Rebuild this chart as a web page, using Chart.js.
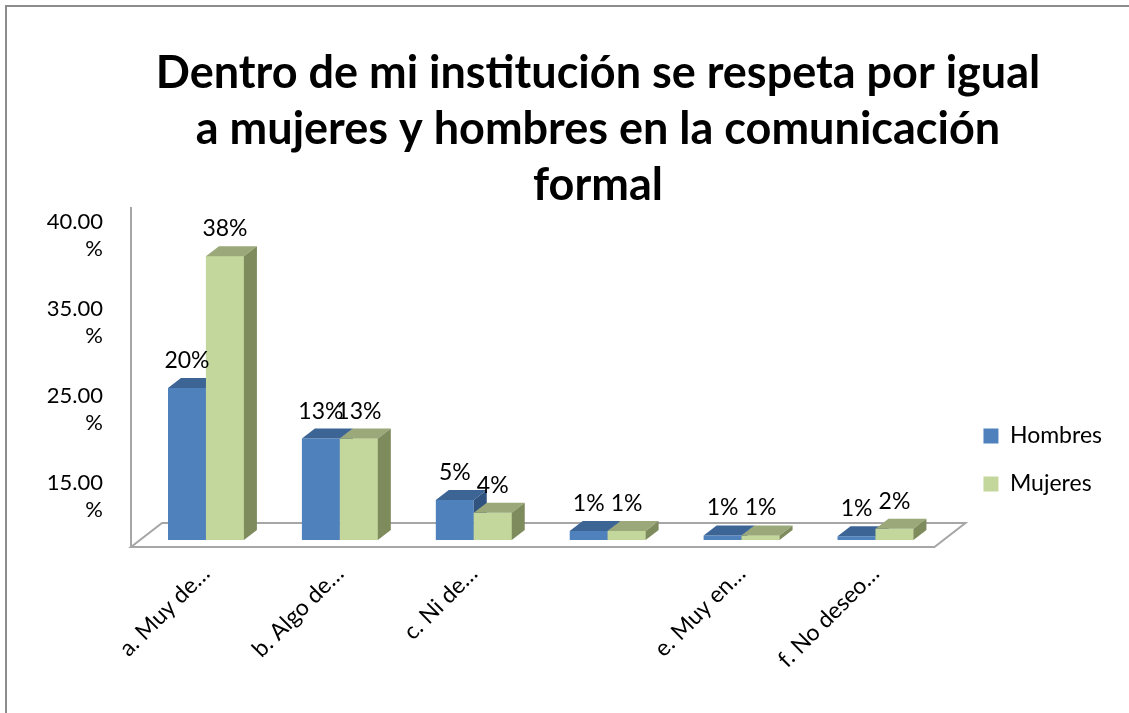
<!DOCTYPE html>
<html>
<head>
<meta charset="utf-8">
<script src="https://cdn.jsdelivr.net/npm/chart.js@4.4.1/dist/chart.umd.min.js"></script>
<style>
  html, body { margin: 0; padding: 0; background: #fff; overflow: hidden; }
  #wrap { width: 1129px; height: 713px; position: relative; }
</style>
</head>
<body>
<div id="wrap"><canvas id="myChart"></canvas></div>
<script>
// data
const titleLines = ['Dentro de mi institución se respeta por igual', 'a mujeres y hombres en la comunicación', 'formal'];
const categories = ['a. Muy de…', 'b. Algo de…', 'c. Ni de…', '', 'e. Muy en…', 'f. No deseo…'];
const hombres = [20.1, 13.4, 5.3, 1.2, 0.6, 0.5];
const mujeres = [37.5, 13.4, 3.6, 1.2, 0.6, 1.5];
const yTickValues = [5.75, 17.25, 28.75, 40.25];
const yTickLabels = [['15.00', '%'], ['25.00', '%'], ['35.00', '%'], ['40.00', '%']];

const fontFamily = 'Lato, "Open Sans", sans-serif';
const depth = { x: 13, y: 10 };
const faceColors = [
    { front: '#4F81BD', top: '#3C6595', side: '#30547F' },
    { front: '#C3D69B', top: '#9BA97A', side: '#7E8B5D' }
];

function drawBox(ctx, bar, c) {
    const l = bar.x - bar.width / 2, r = bar.x + bar.width / 2, t = bar.y, b = bar.base;
    ctx.fillStyle = c.top;
    ctx.beginPath();
    ctx.moveTo(l, t); ctx.lineTo(r, t);
    ctx.lineTo(r + depth.x, t - depth.y); ctx.lineTo(l + depth.x, t - depth.y);
    ctx.closePath(); ctx.fill();
    ctx.fillStyle = c.side;
    ctx.beginPath();
    ctx.moveTo(r, t); ctx.lineTo(r + depth.x, t - depth.y);
    ctx.lineTo(r + depth.x, b - depth.y); ctx.lineTo(r, b);
    ctx.closePath(); ctx.fill();
}

const excel3d = {
    id: 'excel3d',
    beforeDraw(chart) {
        const ctx = chart.ctx;
        ctx.save();
        ctx.fillStyle = '#fff';
        ctx.fillRect(0, 0, chart.width, chart.height);
        // outer frame (only top and left are visible)
        ctx.strokeStyle = '#8C8C8C';
        ctx.lineWidth = 2;
        ctx.beginPath();
        ctx.moveTo(6, chart.height); ctx.lineTo(6, 6); ctx.lineTo(chart.width, 6);
        ctx.stroke();
        // title
        ctx.fillStyle = '#000';
        ctx.font = 'bold 45px ' + fontFamily;
        ctx.textAlign = 'center';
        ctx.textBaseline = 'alphabetic';
        titleLines.forEach((line, i) => ctx.fillText(line, 598, 88 + i * 56));
        ctx.restore();
    },
    beforeDatasetsDraw(chart) {
        const ctx = chart.ctx, a = chart.chartArea;
        const fl = a.left - 8, fr = a.right - 8, fy = a.bottom + 7;
        ctx.save();
        ctx.strokeStyle = '#A6A6A6';
        ctx.lineWidth = 2;
        ctx.fillStyle = '#fff';
        ctx.beginPath();
        ctx.moveTo(fl, fy); ctx.lineTo(fr, fy);
        ctx.lineTo(fr + 31, fy - 24); ctx.lineTo(fl + 31, fy - 24);
        ctx.closePath();
        ctx.fill(); ctx.stroke();
        ctx.beginPath();
        ctx.moveTo(fl, a.top); ctx.lineTo(fl, fy);
        ctx.stroke();
        ctx.restore();
    },
    afterDatasetsDraw(chart) {
        const ctx = chart.ctx;
        const metas = [chart.getDatasetMeta(0), chart.getDatasetMeta(1)];
        ctx.save();
        categories.forEach((_, i) => {
            metas.forEach((meta, d) => {
                const el = meta.data[i];
                if (d > 0) el.draw(ctx);
                drawBox(ctx, el.getProps(['x', 'y', 'base', 'width'], true), faceColors[d]);
            });
        });
        ctx.fillStyle = '#000';
        ctx.font = '23px ' + fontFamily;
        ctx.textAlign = 'center';
        ctx.textBaseline = 'alphabetic';
        metas.forEach((meta, d) => {
            meta.data.forEach((el, i) => {
                const v = chart.data.datasets[d].data[i];
                ctx.fillText(Math.round(v) + '%', el.x, el.y - depth.y - 10);
            });
        });
        ctx.restore();
    }
};

const data = {
    labels: categories,
    datasets: [{
        label: 'Hombres',
        data: hombres,
        backgroundColor: faceColors[0].front,
        borderWidth: 0
    }, {
        label: 'Mujeres',
        data: mujeres,
        backgroundColor: faceColors[1].front,
        borderWidth: 0
    }]
};

const ctx = document.getElementById('myChart').getContext('2d');
const myChart = new Chart(ctx, {
    type: 'bar',
    data: data,
    plugins: [excel3d],
    options: {
        responsive: true,
        maintainAspectRatio: false,
        animation: false,
        categoryPercentage: 0.567,
        barPercentage: 1,
        layout: { padding: { top: 207, left: 10, right: 17, bottom: 0 } },
        plugins: {
            title: { display: false },
            tooltip: { enabled: false },
            legend: {
                position: 'right',
                labels: {
                    boxWidth: 15,
                    boxHeight: 15,
                    padding: 25,
                    color: '#000',
                    font: { size: 23, family: fontFamily }
                }
            }
        },
        scales: {
            x: {
                grid: { display: false, drawTicks: false },
                border: { display: false },
                ticks: {
                    color: '#000',
                    font: { size: 23, family: fontFamily },
                    minRotation: 45,
                    maxRotation: 45,
                    autoSkip: false,
                    padding: 20
                },
                afterFit(s) { s.height = 173; }
            },
            y: {
                min: 0,
                max: 44,
                grid: { display: false, drawTicks: false },
                border: { display: false },
                afterBuildTicks(s) { s.ticks = yTickValues.map(v => ({ value: v })); },
                ticks: {
                    color: '#000',
                    font: { size: 22, family: fontFamily },
                    padding: 36,
                    callback: (value, index) => yTickLabels[index]
                },
                afterFit(s) { s.width = 129; }
            },
            gap: {
                position: 'right',
                grid: { display: false, drawTicks: false },
                border: { display: false },
                ticks: { display: false },
                afterFit(s) { s.width = 16; }
            }
        }
    }
});
</script>
</body>
</html>
